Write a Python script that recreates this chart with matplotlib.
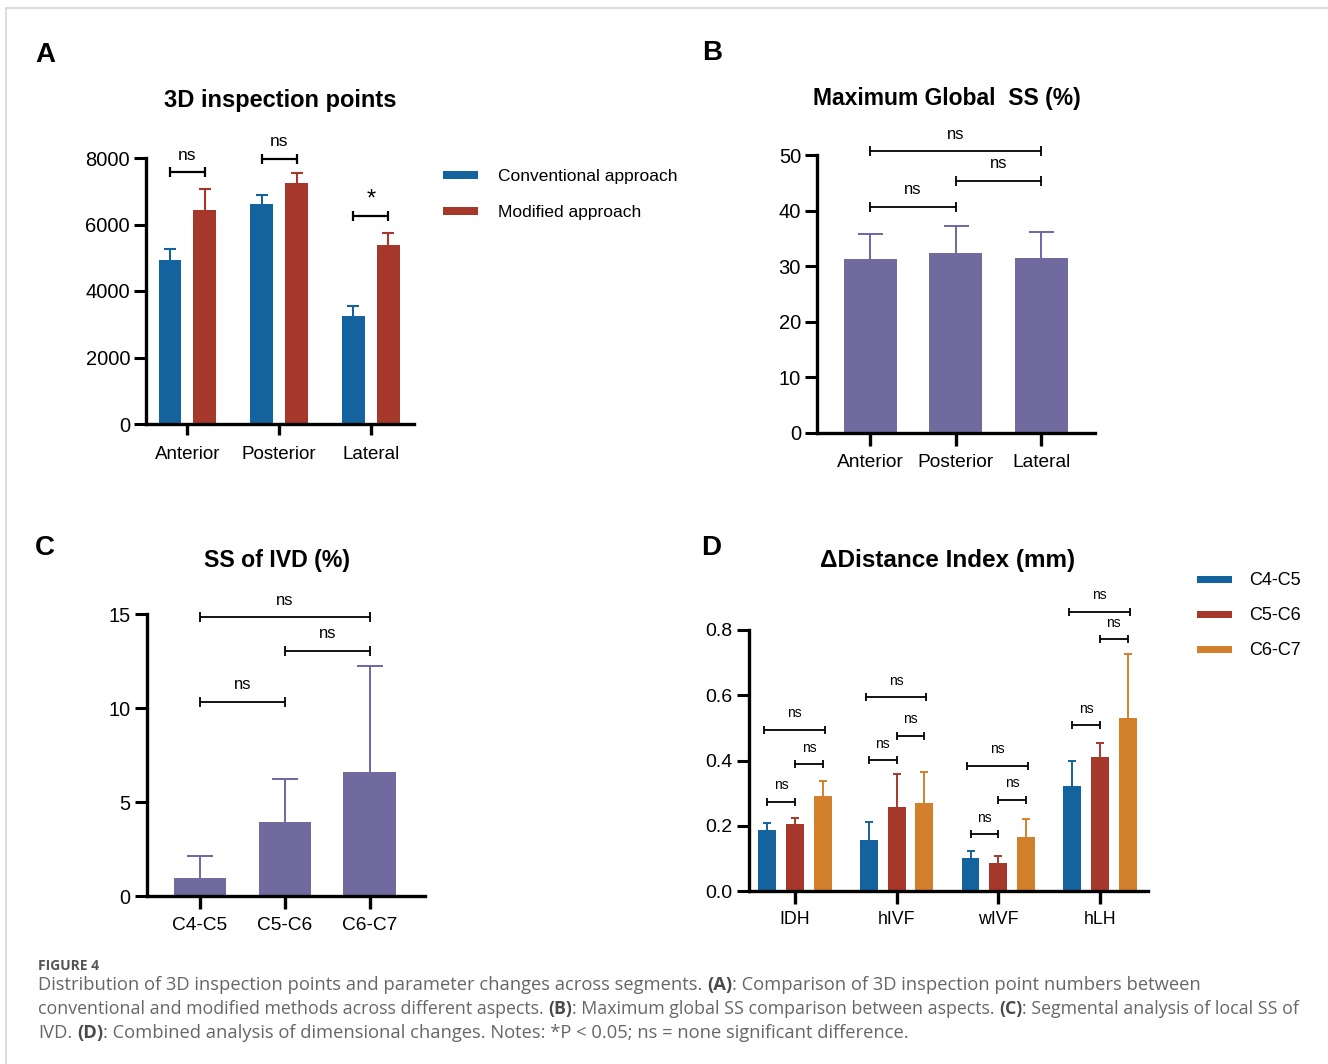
import matplotlib
matplotlib.use('Agg')
import matplotlib.pyplot as plt
import numpy as np
from matplotlib.patches import Rectangle
from matplotlib.lines import Line2D
from matplotlib.ticker import FormatStrFormatter

# ---------------- data ----------------
# Panel A
a_categories = ["Anterior", "Posterior", "Lateral"]
a_series = ["Conventional approach", "Modified approach"]
a_conv_mean = [4930, 6630, 3250]
a_conv_sd = [340, 270, 300]
a_mod_mean = [6450, 7240, 5380]
a_mod_sd = [620, 300, 370]
a_sig_y = [7570, 7970, 6270]
a_sig_label = ["ns", "ns", "*"]
a_yticks = [0, 2000, 4000, 6000, 8000]

# Panel B
b_categories = ["Anterior", "Posterior", "Lateral"]
b_mean = [31.3, 32.3, 31.5]
b_sd = [4.5, 5.0, 4.7]
b_brackets = [(0, 2, 50.7, "ns"), (1, 2, 45.4, "ns"), (0, 1, 40.7, "ns")]
b_yticks = [0, 10, 20, 30, 40, 50]

# Panel C
c_categories = ["C4-C5", "C5-C6", "C6-C7"]
c_mean = [0.94, 3.92, 6.58]
c_sd = [1.19, 2.28, 5.65]
c_brackets = [(0, 2, 14.82, "ns"), (1, 2, 13.05, "ns"), (0, 1, 10.34, "ns")]
c_yticks = [0, 5, 10, 15]

# Panel D
d_categories = ["IDH", "hIVF", "wIVF", "hLH"]
d_series = ["C4-C5", "C5-C6", "C6-C7"]
d_c45_mean = [0.187, 0.155, 0.102, 0.323]
d_c45_sd = [0.022, 0.057, 0.022, 0.077]
d_c56_mean = [0.205, 0.256, 0.086, 0.412]
d_c56_sd = [0.020, 0.102, 0.022, 0.043]
d_c67_mean = [0.291, 0.269, 0.164, 0.530]
d_c67_sd = [0.045, 0.097, 0.057, 0.196]
# bracket heights per group: (bar0-bar1, bar1-bar2, bar0-bar2)
d_br_01 = [0.274, 0.401, 0.174, 0.508]
d_br_12 = [0.388, 0.476, 0.279, 0.771]
d_br_02 = [0.493, 0.594, 0.383, 0.855]
d_yticks = [0.0, 0.2, 0.4, 0.6, 0.8]

caption_title = "FIGURE 4"
caption_lines = [
    [("Distribution of 3D inspection points and parameter changes across segments. ", False), ("(A)", True),
     (": Comparison of 3D inspection point numbers between", False)],
    [("conventional and modified methods across different aspects. ", False), ("(B)", True),
     (": Maximum global SS comparison between aspects. ", False), ("(C)", True),
     (": Segmental analysis of local SS of", False)],
    [("IVD. ", False), ("(D)", True),
     (": Combined analysis of dimensional changes. Notes: *P < 0.05; ns = none significant difference.", False)],
]

# ---------------- style ----------------
BLUE = "#15639E"
RED = "#A5382A"
ORANGE = "#D2802C"
PURPLE = "#706A9F"
PURPLE_E = "#6C66A8"

W, H = 1328, 1064
fig = plt.figure(figsize=(W / 100, H / 100), dpi=100)
plt.rcParams['font.family'] = ['Liberation Sans', 'DejaVu Sans']
CAP_FAMILY = ['Open Sans', 'DejaVu Sans']


def fx(x):
    return x / W


def fy(y):
    return 1 - y / H


def ax_at(l, t, r, b):
    return fig.add_axes([l / W, 1 - b / H, (r - l) / W, (b - t) / H])


def style_axes(ax, xlim, ylim, yticks, cats, xfs, yfs, fmt=None, ylen=9, xlen=9, xpad=4):
    ax.set_xlim(*xlim)
    ax.set_ylim(*ylim)
    for s in ["top", "right"]:
        ax.spines[s].set_visible(False)
    for s in ["left", "bottom"]:
        ax.spines[s].set_linewidth(2.4)
    ax.set_yticks(yticks)
    if fmt:
        ax.yaxis.set_major_formatter(FormatStrFormatter(fmt))
    ax.set_xticks(range(len(cats)))
    ax.set_xticklabels(cats)
    ax.tick_params(axis='y', length=ylen, width=2.2, labelsize=yfs, pad=2.5)
    ax.tick_params(axis='x', length=xlen, width=2.4, labelsize=xfs, pad=xpad)
    ax.patch.set_alpha(0)


def bars_up(ax, x, mean, sd, width, color, ecolor, elw, capsize):
    ax.bar(x, mean, width, color=color, zorder=2)
    cont = ax.errorbar(x, mean, yerr=[np.zeros(len(mean)), sd], fmt='none', ecolor=ecolor,
                       elinewidth=elw, capsize=capsize, capthick=elw, zorder=1.5)
    caps = cont.lines[1]
    # hide the lower cap (sits on the bar top)
    if len(caps) == 2:
        caps[0].set_visible(False)


def bracket(ax, x1, x2, y, label, lw=1.3, ms=6.5, fs=12, off=12.3, tfs=None):
    ax.plot([x1, x2], [y, y], color='black', lw=lw, marker='|', markersize=ms,
            markeredgewidth=lw, clip_on=False, solid_capstyle='butt')
    ax.annotate(label, xy=((x1 + x2) / 2, y), xytext=(0, off), textcoords='offset points',
                ha='center', va='center', fontsize=tfs or fs, annotation_clip=False)


# ---------------- panel A ----------------
axA = ax_at(146, 158, 414, 424)
xa = np.arange(len(a_categories))
offA, wA = 0.19, 0.245
bars_up(axA, xa - offA, a_conv_mean, a_conv_sd, wA, BLUE, BLUE, 1.5, 4)
bars_up(axA, xa + offA, a_mod_mean, a_mod_sd, wA, RED, RED, 1.5, 4)
style_axes(axA, (-0.45, 2.47), (0, 8000), a_yticks, a_categories, 13.5, 14.5, ylen=9, xlen=8, xpad=8)
for i, (yv, lab) in enumerate(zip(a_sig_y, a_sig_label)):
    if lab == "*":
        bracket(axA, i - offA, i + offA, yv, lab, lw=1.6, ms=7, tfs=17, off=11.5)
    else:
        bracket(axA, i - offA, i + offA, yv, lab, lw=1.6, ms=7, fs=12.5)
fig.text(fx(280), fy(107), "3D inspection points", ha='center', va='baseline', fontsize=17, fontweight='bold')
fig.text(fx(45.5), fy(55), "A", ha='center', va='center', fontsize=20, fontweight='bold')
# legend A
for k, (lab, col) in enumerate(zip(a_series, [BLUE, RED])):
    yc = 175 + 36 * k
    fig.add_artist(Rectangle((fx(443), fy(yc + 4)), 35 / W, 8 / H, transform=fig.transFigure,
                             color=col, lw=0))
    fig.text(fx(498), fy(yc + 2), lab, ha='left', va='center', fontsize=12.5)

# ---------------- panel B ----------------
axB = ax_at(817, 155, 1095, 432.7)
xb = np.arange(len(b_categories))
bars_up(axB, xb, b_mean, b_sd, 0.62, PURPLE, PURPLE_E, 1.4, 9)
style_axes(axB, (-0.62, 2.63), (0, 50), b_yticks, b_categories, 13.8, 14.5, ylen=9, xlen=9, xpad=6.3)
for i, j, yv, lab in b_brackets:
    bracket(axB, i, j, yv, lab, lw=1.3, ms=6.5, fs=12)
fig.text(fx(947), fy(105), "Maximum Global  SS (%)", ha='center', va='baseline', fontsize=16.5, fontweight='bold')
fig.text(fx(712), fy(53), "B", ha='center', va='center', fontsize=20, fontweight='bold')

# ---------------- panel C ----------------
axC = ax_at(146.7, 614, 425, 896)
xc = np.arange(len(c_categories))
bars_up(axC, xc, c_mean, c_sd, 0.62, PURPLE, PURPLE_E, 1.4, 9.5)
style_axes(axC, (-0.627, 2.65), (0, 15), c_yticks, c_categories, 13.8, 14.3, ylen=9, xlen=9, xpad=6.3)
for i, j, yv, lab in c_brackets:
    bracket(axC, i, j, yv, lab, lw=1.3, ms=6.5, fs=12)
fig.text(fx(277), fy(566.5), "SS of IVD (%)", ha='center', va='baseline', fontsize=16.7, fontweight='bold')
fig.text(fx(45), fy(548), "C", ha='center', va='center', fontsize=20, fontweight='bold')

# ---------------- panel D ----------------
axD = ax_at(748.5, 630, 1148, 891)
xd = np.arange(len(d_categories))
offD, wD = 0.273, 0.177
d_means = [d_c45_mean, d_c56_mean, d_c67_mean]
d_sds = [d_c45_sd, d_c56_sd, d_c67_sd]
d_cols = [BLUE, RED, ORANGE]
for k in range(3):
    bars_up(axD, xd + (k - 1) * offD, d_means[k], d_sds[k], wD, d_cols[k], d_cols[k], 1.4, 3.2)
style_axes(axD, (-0.458, 3.474), (0, 0.8), d_yticks, d_categories, 12.8, 14, fmt='%.1f',
           ylen=9, xlen=9, xpad=5.5)
for g in range(4):
    bracket(axD, g - offD, g, d_br_01[g], "ns", lw=1.3, ms=5.5, fs=10, off=12)
    bracket(axD, g, g + offD, d_br_12[g], "ns", lw=1.3, ms=5.5, fs=10, off=12)
    bracket(axD, g - offD - 0.03, g + offD + 0.02, d_br_02[g], "ns", lw=1.3, ms=5.5, fs=10, off=12)
fig.text(fx(947.7), fy(567.5), "\u0394Distance Index (mm)", ha='center', va='baseline', fontsize=17.5,
         fontweight='bold')
fig.text(fx(711), fy(548), "D", ha='center', va='center', fontsize=20, fontweight='bold')
for k, (lab, col) in enumerate(zip(d_series, d_cols)):
    yc = 579.3 + 35 * k
    fig.add_artist(Rectangle((fx(1197), fy(yc + 3.7)), 35 / W, 7.4 / H, transform=fig.transFigure,
                             color=col, lw=0))
    fig.text(fx(1249), fy(yc + 1.5), lab, ha='left', va='center', fontsize=13)

# ---------------- frame ----------------
fig.add_artist(Line2D([fx(6), fx(6)], [0, fy(8)], transform=fig.transFigure, color='#d6d6d6', lw=1.2))
fig.add_artist(Line2D([fx(6), 1], [fy(8), fy(8)], transform=fig.transFigure, color='#d6d6d6', lw=1.2))

# ---------------- caption ----------------
CAP_COLOR = '#666666'
fig.text(fx(38), fy(970), caption_title, ha='left', va='baseline', fontsize=10, fontweight='bold',
         color='#555555', family=CAP_FAMILY)

renderer = fig.canvas.get_renderer()


def twidth(s, fs, bold):
    t = fig.text(0, 0, s, fontsize=fs, fontweight='bold' if bold else 'normal', family=CAP_FAMILY)
    w = t.get_window_extent(renderer).width
    t.remove()
    return w


def line_layout(pieces, fs):
    sp = twidth("a a", fs, False) - twidth("aa", fs, False)
    items = []
    x = 0.0
    for s, b in pieces:
        lead = len(s) - len(s.lstrip(' '))
        trail = len(s) - len(s.rstrip(' '))
        core = s.strip(' ')
        x += lead * sp
        items.append((x, core, b))
        x += twidth(core, fs, b)
        x += trail * sp
    return items, x


base_fs = 13.4
_, w1 = line_layout(caption_lines[0], base_fs)
base_fs = base_fs * 1165.0 / w1
targets = [1165.0, 1259.0, 883.0]
baselines = [990, 1014, 1038]
for pieces, tgt, yb in zip(caption_lines, targets, baselines):
    fs = base_fs
    items, w = line_layout(pieces, fs)
    if w > tgt * 1.005:
        fs = fs * tgt / w
        items, w = line_layout(pieces, fs)
    for xo, s, b in items:
        fig.text(fx(38 + xo), fy(yb), s, ha='left', va='baseline', fontsize=fs,
                 fontweight='bold' if b else 'normal', color='#4a4a4a' if b else CAP_COLOR,
                 family=CAP_FAMILY)

fig.savefig("out.png", dpi=100, facecolor='white')
